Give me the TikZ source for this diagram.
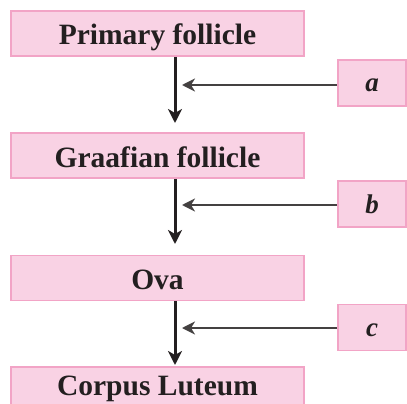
\documentclass[tikz,border=0pt]{standalone}
\usepackage{fontspec}
\setmainfont{Liberation Serif}
\usetikzlibrary{arrows.meta}
\definecolor{boxfill}{RGB}{249,210,228}
\definecolor{boxline}{RGB}{242,164,198}
\definecolor{ink}{RGB}{35,31,32}
\tikzset{
  mainbox/.style={draw=boxline, line width=1.6pt, fill=boxfill, minimum width=293pt, minimum height=45pt, inner sep=0pt, text height=23pt, text depth=0pt, font=\fontsize{29.5}{30}\selectfont\bfseries, text=ink},
  sidebox/.style={draw=boxline, line width=1.6pt, fill=boxfill, minimum width=68pt, minimum height=46pt, inner sep=0pt, text height=18pt, text depth=0pt, font=\fontsize{27}{28}\selectfont\bfseries\itshape, text=ink},
  flow/.style={draw=ink, line width=3pt, -{Stealth[length=14pt,width=14pt,inset=4pt]}},
  feed/.style={draw=ink!85, line width=1.8pt, -{Stealth[length=13pt,width=13pt,inset=4pt]}}
}
\begin{document}
\begin{tikzpicture}[x=1pt,y=-1pt]
\useasboundingbox (0,0) rectangle (407,404);
\node[mainbox] (p1) at (157.5,33.5) {Primary follicle};
\node[mainbox] (p2) at (157.5,155.5) {Graafian follicle};
\node[mainbox] (p3) at (157.5,278) {Ova};
\node[mainbox, text height=12pt] (p4) at (157.5,389.5) {Corpus Luteum};
\node[sidebox] (a) at (372,83) {a};
\node[sidebox] (b) at (372,204) {b};
\node[sidebox] (c) at (372,327.5) {c};
\coordinate (e1) at (175,123);
\coordinate (e2) at (175,244);
\coordinate (e3) at (175,365);
\coordinate (h1) at (182,85);
\coordinate (h2) at (182,205);
\coordinate (h3) at (182,328);
\draw[flow] (p1.south -| e1) -- (e1);
\draw[flow] (p2.south -| e2) -- (e2);
\draw[flow] (p3.south -| e3) -- (e3);
\draw[feed] (a.west |- h1) -- (h1);
\draw[feed] (b.west |- h2) -- (h2);
\draw[feed] (c.west |- h3) -- (h3);
\end{tikzpicture}
\end{document}
